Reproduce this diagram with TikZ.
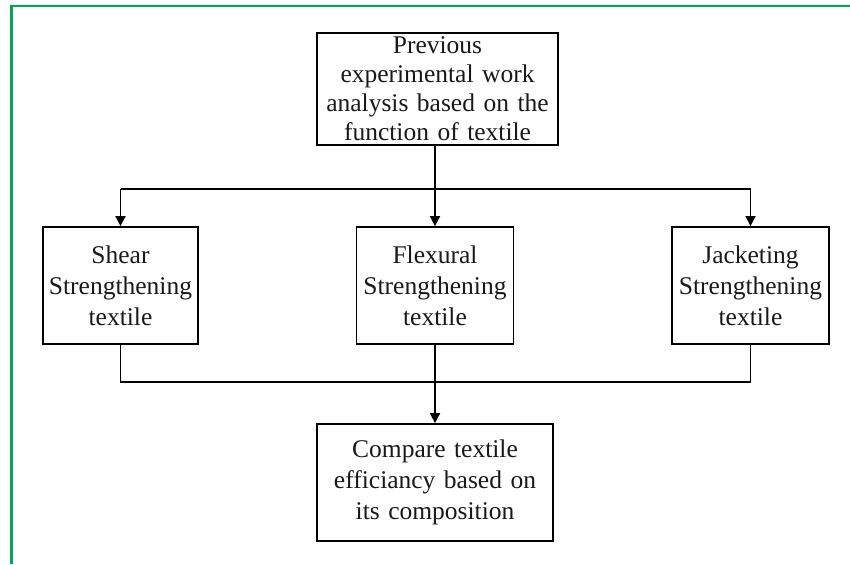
\documentclass[tikz,border=0pt]{standalone}
\usepackage{fontspec}
\setmainfont{Liberation Serif}
\usetikzlibrary{arrows.meta}
\definecolor{frame}{RGB}{0,166,81}
\begin{document}
\begin{tikzpicture}[x=1pt,y=-1pt,
  box/.style={draw=black,line width=1.8pt,align=center,inner sep=0pt,
    font=\fontsize{25.5}{31}\selectfont,text=black!90},
  conn/.style={line width=1.8pt,black},
  arr/.style={conn,-{Triangle[length=10pt,width=10pt]}}]
\useasboundingbox (0,0) rectangle (850,564);
\fill[white] (0,0) rectangle (850,564);
\draw[frame,line width=2.8pt] (11.3,564) -- (11.3,6) -- (850,6);
\node[box,minimum width=241pt,minimum height=112pt,text width=238pt,
  font=\fontsize{25.5}{29}\selectfont] (top) at (437.5,89)
  {Previous\\experimental work\\analysis based on the\\function of textile};
\node[box,minimum width=155pt,minimum height=117pt,text width=152pt] (shear) at (120.5,285.5)
  {Shear\\Strengthening\\textile};
\node[box,minimum width=157pt,minimum height=117pt,text width=154pt] (flex) at (435,285.5)
  {Flexural\\Strengthening\\textile};
\node[box,minimum width=157pt,minimum height=117pt,text width=154pt] (jack) at (750.5,285.5)
  {Jacketing\\Strengthening\\textile};
\node[box,minimum width=236pt,minimum height=117pt,text width=230pt] (comp) at (435,482.5)
  {Compare textile\\efficiancy based on\\its composition};
\coordinate (bus) at (435,189);
\coordinate (low) at (435,382);
\draw[conn] (top.south -| flex.north) -- (bus);
\draw[conn] (bus -| shear.north) -- (bus -| jack.north);
\draw[arr] (bus -| shear.north) -- (shear.north);
\draw[arr] (bus) -- (flex.north);
\draw[arr] (bus -| jack.north) -- (jack.north);
\draw[conn] (shear.south) -- (low -| shear.south) -- (low -| jack.south) -- (jack.south);
\draw[arr] (flex.south) -- (comp.north);
\end{tikzpicture}
\end{document}
